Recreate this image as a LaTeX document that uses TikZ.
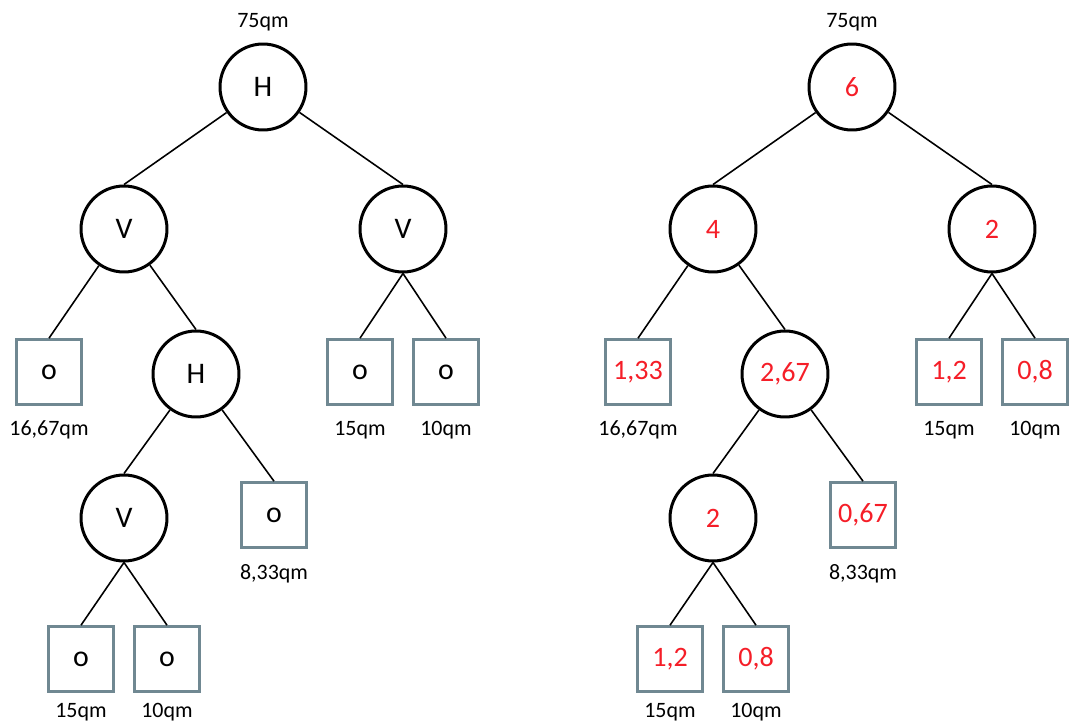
\documentclass[tikz,border=0pt]{standalone}
\usepackage{fontspec}
\setmainfont{Carlito}
\usetikzlibrary{positioning}
\definecolor{boxgray}{RGB}{112,136,146}
\definecolor{valred}{RGB}{245,30,40}

\begin{document}
\begin{tikzpicture}[x=0.02cm, y=0.02cm, node distance=0.3cm,
    knot/.style={draw, circle, line width=1.7pt, minimum size=1.72cm, inner sep=0pt, font=\fontsize{17}{19}\selectfont},
    room/.style={draw=boxgray, rectangle, line width=1.5pt, minimum size=1.3cm, inner sep=0pt, font=\fontsize{17}{19}\selectfont},
    val/.style={text=valred, font=\fontsize{16}{18}\selectfont},
    area/.style={inner sep=0pt, font=\fontsize{12.5}{14}\selectfont},
    edge/.style={line width=0.9pt}]
            \useasboundingbox (0,0) rectangle (1075,721);

            % left tree: cut types
            \node[knot] (rootL) at (263,634) {H};
            \node[knot] (vL) at (124,492) {V};
            \node[knot] (vR) at (403,492) {V};
            \node[room] (oA) at (49,349) {o};
            \node[knot] (hI) at (196,347) {H};
            \node[room] (oB) at (360,349) {o};
            \node[room] (oC) at (446,349) {o};
            \node[knot] (vI) at (124,203) {V};
            \node[room] (oD) at (274,206) {o};
            \node[room] (oE) at (81,62) {o};
            \node[room] (oF) at (167,62) {o};

            \draw[edge] (rootL) -- (vL.north);
            \draw[edge] (rootL) -- (vR.north);
            \draw[edge] (vL) -- (oA.north);
            \draw[edge] (vL) -- (hI.north);
            \draw[edge] (vR.south) -- (oB.north);
            \draw[edge] (vR.south) -- (oC.north);
            \draw[edge] (hI) -- (vI.north);
            \draw[edge] (hI) -- (oD.north);
            \draw[edge] (vI.south) -- (oE.north);
            \draw[edge] (vI.south) -- (oF.north);

            \node[area, above=0.22cm of rootL] {75qm};
            \node[area, below=of oA] {16,67qm};
            \node[area, below=of oB] {15qm};
            \node[area, below=of oC] {10qm};
            \node[area, below=of oD] {8,33qm};
            \node[area, below=0.2cm of oE] {15qm};
            \node[area, below=0.2cm of oF] {10qm};

            % right tree: weights
            \node[knot, val] (rootR) at (852,634) {6};
            \node[knot, val] (wL) at (713,492) {4};
            \node[knot, val] (wR) at (992,492) {2};
            \node[room, val] (pA) at (638,349) {1,33};
            \node[knot, val] (wI) at (785,347) {2,67};
            \node[room, val] (pB) at (949,349) {1,2};
            \node[room, val] (pC) at (1035,349) {0,8};
            \node[knot, val] (wJ) at (713,203) {2};
            \node[room, val] (pD) at (863,206) {0,67};
            \node[room, val] (pE) at (670,62) {1,2};
            \node[room, val] (pF) at (756,62) {0,8};

            \draw[edge] (rootR) -- (wL.north);
            \draw[edge] (rootR) -- (wR.north);
            \draw[edge] (wL) -- (pA.north);
            \draw[edge] (wL) -- (wI.north);
            \draw[edge] (wR.south) -- (pB.north);
            \draw[edge] (wR.south) -- (pC.north);
            \draw[edge] (wI) -- (wJ.north);
            \draw[edge] (wI) -- (pD.north);
            \draw[edge] (wJ.south) -- (pE.north);
            \draw[edge] (wJ.south) -- (pF.north);

            \node[area, above=0.22cm of rootR] {75qm};
            \node[area, below=of pA] {16,67qm};
            \node[area, below=of pB] {15qm};
            \node[area, below=of pC] {10qm};
            \node[area, below=of pD] {8,33qm};
            \node[area, below=0.2cm of pE] {15qm};
            \node[area, below=0.2cm of pF] {10qm};
        \end{tikzpicture}
\end{document}
